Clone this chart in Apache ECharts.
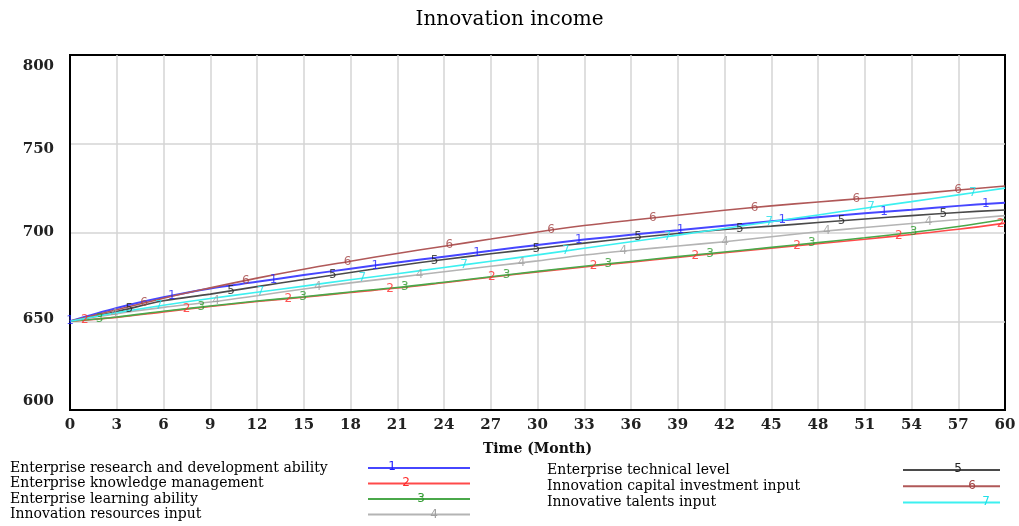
<!DOCTYPE html>
<html>
<head>
<meta charset="utf-8">
<title>Innovation income</title>
<script src="https://cdn.jsdelivr.net/npm/echarts@6/dist/echarts.min.js"></script>
<style>
  html, body { margin: 0; padding: 0; background: #fff; }
  #chart { width: 1019px; height: 526px; }
</style>
</head>
<body>
<div id="chart"></div>
<script>
// Simulation time axis (months) and the seven scenario runs of innovation income
const months = [0, 3, 6, 9, 12, 15, 18, 21, 24, 27, 30, 33, 36, 39, 42, 45, 48, 51, 54, 57, 60];

const rdAbility        = [650, 657.5, 663.5, 668.5, 672.2, 676, 679.6, 683.1, 686.4, 689.7, 693, 696, 698.7, 701.2, 703.8, 706.3, 708.6, 710.8, 712.8, 715, 716.8];
const knowledgeMgmt    = [650, 652.2, 655.3, 658.3, 661.1, 663.5, 666.2, 668.7, 671.7, 674.8, 677.8, 680.6, 683.3, 686, 688.6, 691.2, 693.7, 696.2, 698.9, 701.8, 705.3];
const learningAbility  = [650, 652.4, 655.6, 658.6, 661.4, 663.8, 666.5, 669, 672, 675.1, 678.1, 681, 683.7, 686.4, 689, 691.6, 694.3, 697, 700, 703.4, 707.5];
const resourcesInput   = [650, 654.3, 657.8, 660.8, 664.4, 668.2, 671.6, 674.7, 677.9, 681, 684, 687.3, 690, 692.4, 694.8, 697.6, 700.4, 702.8, 705.1, 707.3, 709.5];
const technicalLevel   = [650, 655.5, 661.5, 665.3, 669.5, 673.5, 677.5, 681.3, 684.8, 688, 691, 694, 696.9, 699.4, 701.7, 703.6, 705.6, 707.6, 709.5, 711.3, 712.7];
const capitalInput     = [650, 656.5, 663, 668.8, 674.3, 679.3, 683.8, 688.2, 692.3, 696.3, 700.3, 703.9, 706.9, 709.7, 712.5, 715, 717.2, 719.3, 721.6, 723.9, 726.2];
const talentsInput     = [650, 654.8, 659, 662.8, 666.3, 669.8, 673.4, 676.8, 680.3, 683.8, 687.4, 691.1, 694.8, 698.5, 702.3, 706.1, 709.9, 713.7, 717.4, 721.2, 725];

const seriesNames = [
  'Enterprise research and development ability',
  'Enterprise knowledge management',
  'Enterprise learning ability',
  'Innovation resources input',
  'Enterprise technical level',
  'Innovation capital investment input',
  'Innovative talents input'
];
const seriesValues = [rdAbility, knowledgeMgmt, learningAbility, resourcesInput, technicalLevel, capitalInput, talentsInput];
const seriesColors = ['#4646ff', '#ff4a4a', '#4aa84a', '#b4b4b4', '#4a4a4a', '#b05858', '#3cf0f0'];
const markerColors = ['#2020ff', '#ff2a2a', '#2e9a2e', '#a0a0a0', '#222222', '#a24444', '#20e0e8'];

const yTicks = { min: 600, max: 800, step: 50 };
const xTicks = { min: 0, max: 60, step: 3 };

// Run-number markers are repeated along each curve, staggered per run
const markerSpacing = 6.53;
const markerOffset = 0.95;

function valueAt(values, t) {
  for (let i = 0; i < months.length - 1; i++) {
    if (t >= months[i] && t <= months[i + 1]) {
      const f = (t - months[i]) / (months[i + 1] - months[i]);
      return values[i] + f * (values[i + 1] - values[i]);
    }
  }
  return values[values.length - 1];
}

const series = [];
seriesValues.forEach((vals, i) => {
  series.push({
    name: seriesNames[i],
    type: 'line',
    data: months.map((m, k) => [m, vals[k]]),
    smooth: 0.35,
    symbol: 'none',
    lineStyle: { color: seriesColors[i], width: i === 0 ? 2 : 1.6 },
    itemStyle: { color: seriesColors[i] },
    z: 2 + i
  });
});
seriesValues.forEach((vals, i) => {
  const pts = [];
  for (let t = i * markerOffset; t <= xTicks.max + 0.01; t += markerSpacing) {
    pts.push([t, valueAt(vals, Math.min(t, xTicks.max))]);
  }
  series.push({
    type: 'scatter',
    data: pts,
    symbolSize: 0,
    silent: true,
    z: 20,
    label: {
      show: true,
      position: 'inside',
      formatter: String(i + 1),
      color: markerColors[i],
      fontFamily: 'DejaVu Sans',
      fontSize: 12
    }
  });
});

// Value-axis labels sit slightly inward from their grid lines near the ends
const yLabelFont = { fontFamily: 'DejaVu Serif', fontSize: 15, fontWeight: 'bold', color: '#222' };
const yLabelRich = {
  t800: Object.assign({ padding: [22, 0, 0, 0] }, yLabelFont),
  t750: Object.assign({ padding: [11, 0, 0, 0] }, yLabelFont),
  t700: Object.assign({}, yLabelFont),
  t650: Object.assign({ padding: [0, 0, 5, 0] }, yLabelFont),
  t600: Object.assign({ padding: [0, 0, 18, 0] }, yLabelFont)
};

const legendRow = {
  fontFamily: 'DejaVu Serif',
  fontSize: 14,
  color: '#000',
  align: 'left'
};

const legendBase = {
  orient: 'vertical',
  align: 'right',
  icon: 'rect',
  itemHeight: 2,
  padding: 0,
  selectedMode: false,
  formatter: '{n|{name}}'
};

const chart = echarts.init(document.getElementById('chart'));
chart.setOption({
  animation: false,
  backgroundColor: '#fff',
  title: {
    text: 'Innovation income',
    left: 'center',
    top: 5,
    textStyle: { fontFamily: 'DejaVu Serif', fontSize: 20, fontWeight: 'normal', color: '#000' }
  },
  grid: {
    left: 70, right: 14, top: 55, bottom: 116,
    show: true, borderColor: '#000', borderWidth: 2, backgroundColor: '#fff'
  },
  xAxis: {
    type: 'value',
    min: xTicks.min, max: xTicks.max, interval: xTicks.step,
    name: 'Time (Month)',
    nameLocation: 'middle',
    nameGap: 32,
    nameTextStyle: { fontFamily: 'DejaVu Serif', fontSize: 14, fontWeight: 'bold', color: '#111' },
    axisLine: { show: true, lineStyle: { color: '#000', width: 2 } },
    axisTick: { show: false },
    axisLabel: { fontFamily: 'DejaVu Serif', fontSize: 15, fontWeight: 'bold', color: '#222', margin: 8 },
    splitLine: { show: true, showMinLine: false, showMaxLine: false, lineStyle: { color: '#d4d4d4', width: 1.5 } }
  },
  yAxis: {
    type: 'value',
    min: yTicks.min, max: yTicks.max, interval: yTicks.step,
    axisLine: { show: true, lineStyle: { color: '#000', width: 2 } },
    axisTick: { show: false },
    axisLabel: {
      margin: 16,
      formatter: v => '{t' + v + '|' + v + '}',
      rich: yLabelRich
    },
    splitLine: { show: true, showMinLine: false, showMaxLine: false, lineStyle: { color: '#d4d4d4', width: 1.5 } }
  },
  legend: [
    Object.assign({}, legendBase, {
      data: seriesNames.slice(0, 4),
      left: 10, top: 461,
      itemWidth: 102,
      itemGap: 1.5,
      textStyle: { rich: { n: Object.assign({ width: 353 }, legendRow) } }
    }),
    Object.assign({}, legendBase, {
      data: seriesNames.slice(4),
      left: 547, top: 463,
      itemWidth: 97,
      itemGap: 2.3,
      textStyle: { rich: { n: Object.assign({ width: 351 }, legendRow) } }
    })
  ],
  graphic: [
    [392, 467], [406, 483], [421, 499], [434, 515],
    [958, 469], [972, 485.5], [986, 502]
  ].map((p, i) => ({
    type: 'text',
    x: p[0], y: p[1],
    silent: true,
    z: 100,
    style: {
      text: String(i + 1),
      fill: markerColors[i],
      font: '12px "DejaVu Sans"',
      align: 'center',
      verticalAlign: 'middle'
    }
  })),
  series: series
});
</script>
</body>
</html>
